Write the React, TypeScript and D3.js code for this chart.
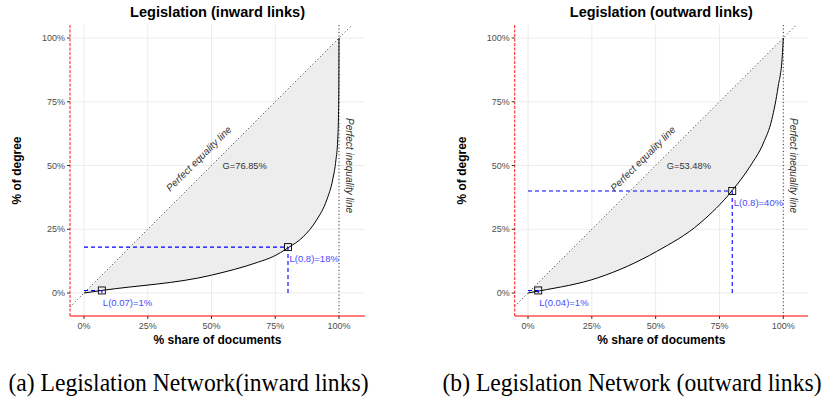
import React from "react";
import * as d3 from "d3";

const W = 826;
const H = 403;

// Lorenz curve readings (share of documents vs share of degree)
const inwardX = [0, 0.07, 0.5, 0.68, 0.742, 0.8, 0.86, 0.912, 0.952, 0.975, 0.988, 0.995, 0.998, 0.9995, 1];
const inwardY = [0, 0.01, 0.07, 0.12, 0.143, 0.177, 0.221, 0.286, 0.365, 0.443, 0.522, 0.6, 0.7, 0.83, 1];
const outwardX = [0, 0.044, 0.275, 0.504, 0.674, 0.8, 0.87, 0.922, 0.955, 0.98, 0.996, 1];
const outwardY = [0, 0.008, 0.06, 0.163, 0.274, 0.402, 0.497, 0.588, 0.68, 0.81, 0.928, 1];

const ticks = [0, 0.25, 0.5, 0.75, 1];
const tickLabels = ["0%", "25%", "50%", "75%", "100%"];

const titles = ["Legislation (inward links)", "Legislation (outward links)"];
const titleWidths = [175, 183];
const captions = ["(a) Legislation Network(inward links)", "(b) Legislation Network (outward links)"];
const gini = ["G=76.85%", "G=53.48%"];
const markLow = [
  { p: 0.07, l: 0.01, label: "L(0.07)=1%" },
  { p: 0.04, l: 0.01, label: "L(0.04)=1%" },
];
const markHigh = [
  { p: 0.8, l: 0.18, label: "L(0.8)=18%" },
  { p: 0.8, l: 0.4, label: "L(0.8)=40%" },
];

const SANS = "'Liberation Sans', Arial, sans-serif";
const SERIF = "'Liberation Serif', 'Times New Roman', serif";
const BLUE = "#0000ff";
const LBLUE = "#4a4aff";

interface PanelProps {
  idx: number;
  xs: number[];
  ys: number[];
  left: number;
  right: number;
  x0: number;
  x1: number;
}

const TOP = 25;
const BOTTOM = 316;

const Panel = ({ idx, xs, ys, left, right, x0, x1 }: PanelProps) => {
  const x = d3.scaleLinear().domain([0, 1]).range([x0, x1]);
  const y = d3.scaleLinear().domain([0, 1]).range([293, 38]);
  const pts = xs.map((v, i) => [v, ys[i]] as [number, number]);

  const line = d3
    .line<[number, number]>()
    .x((d) => x(d[0]))
    .y((d) => y(d[1]))
    .curve(d3.curveMonotoneX);
  const area = d3
    .area<[number, number]>()
    .x((d) => x(d[0]))
    .y0((d) => y(d[0]))
    .y1((d) => y(d[1]))
    .curve(d3.curveMonotoneX);

  const dLo = Math.max(x.invert(left), y.invert(BOTTOM));
  const dHi = Math.min(x.invert(right), y.invert(TOP));
  const cx = (left + right) / 2;
  const lo = markLow[idx];
  const hi = markHigh[idx];
  const sq = 7;

  return (
    <g>
      <text
        x={cx}
        y={17}
        textAnchor="middle"
        fontFamily={SANS}
        fontWeight="bold"
        fontSize={15}
        textLength={titleWidths[idx]}
        lengthAdjust="spacingAndGlyphs"
        fill="#000"
      >
        {titles[idx]}
      </text>
      {/* grid */}
      {ticks.map((t) => (
        <g key={"g" + t}>
          <line x1={x(t)} x2={x(t)} y1={TOP} y2={BOTTOM} stroke="#ececec" strokeWidth={1} />
          <line x1={left} x2={right} y1={y(t)} y2={y(t)} stroke="#ececec" strokeWidth={1} />
        </g>
      ))}
      <path d={area(pts) || ""} fill="#ededed" />
      {/* equality & inequality lines */}
      <line x1={x(dLo)} y1={y(dLo)} x2={x(dHi)} y2={y(dHi)} stroke="#000" strokeWidth={0.8} strokeDasharray="1,2.5" />
      <line x1={x(1)} x2={x(1)} y1={TOP} y2={BOTTOM} stroke="#000" strokeWidth={0.8} strokeDasharray="1,2.5" />
      <path d={line(pts) || ""} fill="none" stroke="#000" strokeWidth={1} />
      {/* reference marks */}
      {[lo, hi].map((m, i) => (
        <g key={"m" + i}>
          <line x1={x(0)} x2={x(m.p)} y1={y(m.l)} y2={y(m.l)} stroke={BLUE} strokeWidth={1.1} strokeDasharray="4,3" />
          <line x1={x(m.p)} x2={x(m.p)} y1={y(0)} y2={y(m.l)} stroke={BLUE} strokeWidth={1.1} strokeDasharray="4,3" />
          <rect x={x(m.p) - sq / 2} y={y(m.l) - sq / 2} width={sq} height={sq} fill="none" stroke="#000" strokeWidth={0.9} />
          <text x={x(m.p) + (i === 0 ? 1 : 1.5)} y={y(m.l) + 12} dy="0.35em" fontFamily={SANS} fontSize={9.5} fill={LBLUE}>
            {m.label}
          </text>
        </g>
      ))}
      <text x={x(0.63)} y={y(0.5)} dy="0.35em" textAnchor="middle" fontFamily={SANS} fontSize={9.3} fill="#333">
        {gini[idx]}
      </text>
      <text
        transform={`translate(${x(0.45)},${y(0.527)}) rotate(-45)`}
        textAnchor="middle"
        dy="0.35em"
        fontFamily={SANS}
        fontStyle="italic"
        fontSize={10}
        fill="#333"
      >
        Perfect equality line
      </text>
      <text
        transform={`translate(${x(1.04)},${y(0.5)}) rotate(90)`}
        textAnchor="middle"
        dy="0.35em"
        fontFamily={SANS}
        fontStyle="italic"
        fontSize={10}
        fill="#333"
      >
        Perfect inequality line
      </text>
      {/* axes in red */}
      <line x1={left} x2={left} y1={TOP} y2={BOTTOM} stroke="#ff2a2a" strokeWidth={1.1} strokeDasharray="3,1.5" />
      <line x1={left} x2={right} y1={BOTTOM} y2={BOTTOM} stroke="#ff0000" strokeWidth={1.2} />
      {ticks.map((t, i) => (
        <g key={"t" + t}>
          <line x1={left - 3} x2={left} y1={y(t)} y2={y(t)} stroke="#333" strokeWidth={1} />
          <text x={left - 5} y={y(t)} dy="0.35em" textAnchor="end" fontFamily={SANS} fontSize={9} fill="#4d4d4d">
            {tickLabels[i]}
          </text>
          <line x1={x(t)} x2={x(t)} y1={BOTTOM} y2={BOTTOM + 3} stroke="#333" strokeWidth={1} />
          <text x={x(t)} y={329} textAnchor="middle" fontFamily={SANS} fontSize={9} fill="#4d4d4d">
            {tickLabels[i]}
          </text>
        </g>
      ))}
      <text x={cx} y={344} textAnchor="middle" fontFamily={SANS} fontWeight="bold" fontSize={12} fill="#000">
        % share of documents
      </text>
      <text
        transform={`translate(${left - 53},${(TOP + BOTTOM) / 2}) rotate(-90)`}
        textAnchor="middle"
        dy="0.35em"
        fontFamily={SANS}
        fontWeight="bold"
        fontSize={12}
        fill="#000"
      >
        % of degree
      </text>
    </g>
  );
};

export default function App() {
  const capX = [188.5, 632];
  return (
    <svg width={W} height={H} style={{ position: "absolute", left: 0, top: 0, background: "#fff" }}>
      <rect width={W} height={H} fill="#fff" />
      <Panel idx={0} xs={inwardX} ys={inwardY} left={70} right={365} x0={84} x1={339} />
      <Panel idx={1} xs={outwardX} ys={outwardY} left={514.7} right={808} x0={528} x1={783.3} />
      {captions.map((c, i) => (
        <text
          key={c}
          transform={`translate(${capX[i]},391) scale(0.945,1)`}
          textAnchor="middle"
          fontFamily={SERIF}
          fontSize={25}
          fill="#000"
        >
          {c}
        </text>
      ))}
    </svg>
  );
}
